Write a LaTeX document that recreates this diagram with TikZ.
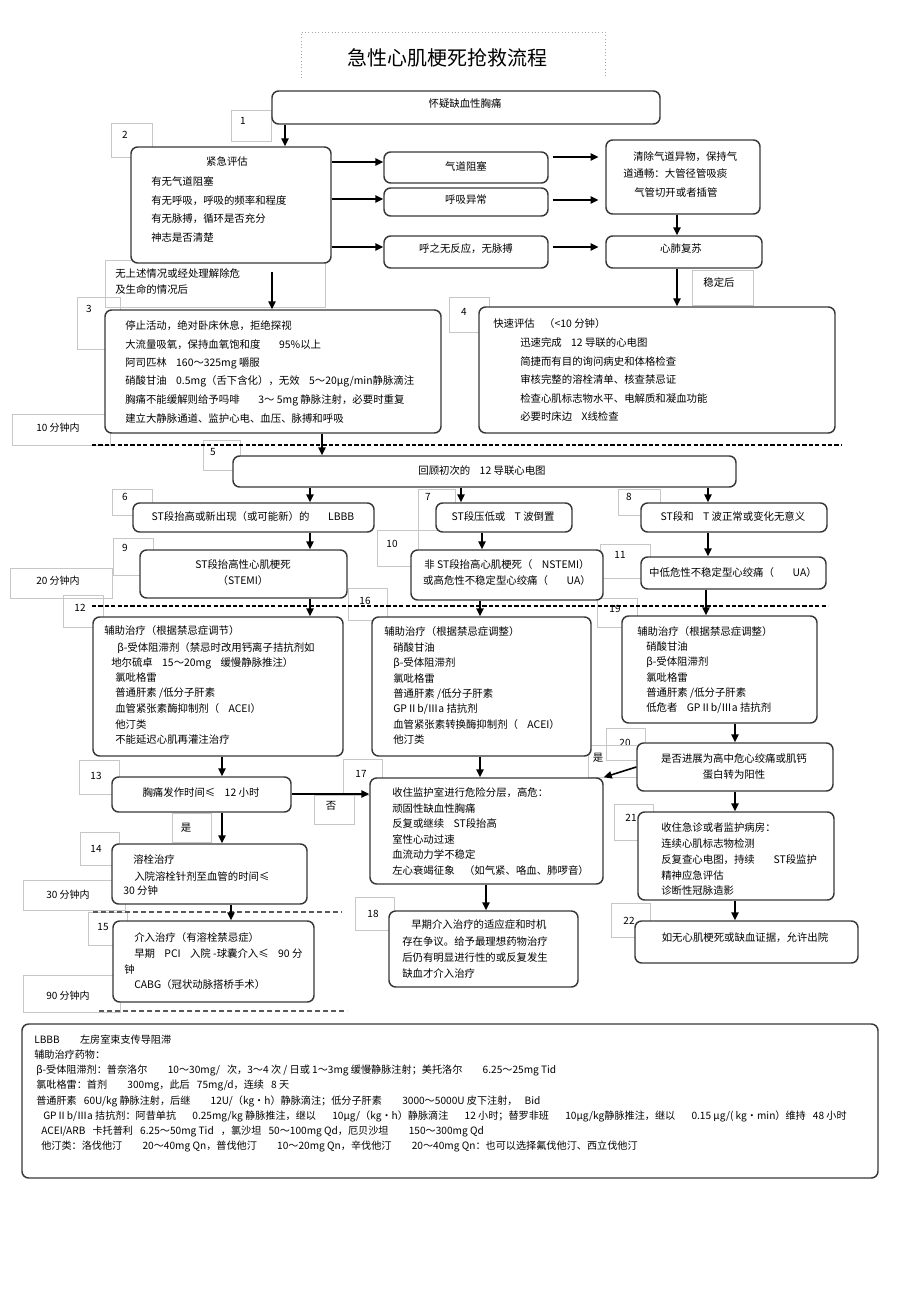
\documentclass[tikz,border=0pt]{standalone}
\usepackage{fontspec}
\setmainfont{Noto Sans CJK SC}
\usetikzlibrary{arrows.meta,fit}
\newcommand\sgap{\hspace{0.9em}}
\newcommand\lgap{\hspace{2em}}
\newcommand\kgap{\hspace{1.6em}}
\newcommand\mgap{\hspace{0.7em}}
\newcommand\tlines[5]{\foreach [count=\i] \t in {#5} {\node[txt] (#1-\i) at (#2, {#3+(\i-1)*#4}) {\t};}}
\begin{document}
\begin{tikzpicture}[x=0.75pt,y=-0.75pt,
 box/.style={draw=black!78, line width=1.1pt, rounded corners=5pt, fill=white, inner sep=0pt},
 lbl/.style={draw=black!22, line width=0.5pt, inner sep=0pt},
 num/.style={font=\fontsize{7.5}{9}\selectfont, inner sep=0pt},
 txt/.style={font=\fontsize{7.8}{9}\selectfont, inner sep=0pt, anchor=west},
 ctxt/.style={font=\fontsize{7.8}{9}\selectfont, inner sep=0pt},
 ltxt/.style={font=\fontsize{7.6}{9}\selectfont, inner sep=0pt, anchor=west},
 arr/.style={line width=1.2pt, -{Triangle[length=6pt,width=5.5pt]}},
 sep/.style={line width=1.7pt, dash pattern=on 3.2pt off 1.6pt},
 septhin/.style={line width=0.8pt, black!65, dash pattern=on 3.5pt off 2.5pt}]
\useasboundingbox (0,0) rectangle (920,1303);
\fill[white] (0,0) rectangle (920,1303);

% ---------- title ----------
\draw[dotted, black!35, line width=0.5pt] (301,78) -- (301,32) -- (605,32) -- (605,78);
\node[font=\fontsize{15}{18}\selectfont, inner sep=0pt] (title) at (447,58) {急性心肌梗死抢救流程};

% ---------- faint label boxes ----------
\node[lbl, fit={(231,110) (271,141)}] (l1) {};
\node[num] (n1) at (243,121) {1};
\node[lbl, fit={(111,123) (152,157)}] (l2) {};
\node[num] (n2) at (125,135) {2};
\node[lbl, fit={(105,260) (325,307)}] (lA) {};
\node[txt] (lA-1) at (115,274) {无上述情况或经处理解除危};
\node[txt] (lA-2) at (115,289) {及生命的情况后};
\node[lbl, fit={(77,297) (120,349)}] (l3) {};
\node[num] (n3) at (89,309) {3};
\node[lbl, fit={(692,270) (753,305)}] (lS) {};
\node[ctxt] (lS-t) at (719,283) {稳定后};
\node[lbl, fit={(449,297) (489,332)}] (l4) {};
\node[num] (n4) at (464,312) {4};
\node[lbl, fit={(12,414) (110,445)}] (lt10) {};
\node[num] (lt10-t) at (58,428) {10 分钟内};
\node[lbl, fit={(203,440) (240,470)}] (l5) {};
\node[num] (n5) at (213,452) {5};
\node[lbl, fit={(112,489) (152,515)}] (l6) {};
\node[num] (n6) at (125,497) {6};
\node[lbl, fit={(418,489) (455,530)}] (l7) {};
\node[num] (n7) at (428,497) {7};
\node[lbl, fit={(618,489) (660,515)}] (l8) {};
\node[num] (n8) at (629,497) {8};
\node[lbl, fit={(113,538) (153,575)}] (l9) {};
\node[num] (n9) at (125,548) {9};
\node[lbl, fit={(10,568) (112,598)}] (lt20) {};
\node[num] (lt20-t) at (58,581) {20 分钟内};
\node[lbl, fit={(377,530) (418,566)}] (l10) {};
\node[num] (n10) at (392,544) {10};
\node[lbl, fit={(600,544) (650,578)}] (l11) {};
\node[num] (n11) at (620,555) {11};
\node[lbl, fit={(63,595) (103,627)}] (l12) {};
\node[num] (n12) at (80,608) {12};
\node[lbl, fit={(348,588) (387,620)}] (l16) {};
\node[num] (n16) at (365,601) {16};
\node[lbl, fit={(597,598) (637,627)}] (l19) {};
\node[num] (n19) at (615,609) {19};
\node[lbl, fit={(606,728) (645,760)}] (l20) {};
\node[num] (n20) at (625,743) {20};
\node[lbl, fit={(588,745) (637,777)}] (lY1) {};
\node[ctxt] (lY1-t) at (598,758) {是};
\node[lbl, fit={(79,760) (119,794)}] (l13) {};
\node[num] (n13) at (96,776) {13};
\node[lbl, fit={(314,795) (354,824)}] (lN) {};
\node[ctxt] (lN-t) at (331,806) {否};
\node[lbl, fit={(343,759) (382,795)}] (l17) {};
\node[num] (n17) at (361,774) {17};
\node[lbl, fit={(172,813) (211,842)}] (lY2) {};
\node[ctxt] (lY2-t) at (186,828) {是};
\node[lbl, fit={(80,832) (119,865)}] (l14) {};
\node[num] (n14) at (96,849) {14};
\node[lbl, fit={(23,880) (125,910)}] (lt30) {};
\node[num] (lt30-t) at (68,895) {30 分钟内};
\node[lbl, fit={(614,804) (653,840)}] (l21) {};
\node[num] (n21) at (631,818) {21};
\node[lbl, fit={(355,897) (394,930)}] (l18) {};
\node[num] (n18) at (373,914) {18};
\node[lbl, fit={(88,912) (127,945)}] (l15) {};
\node[num] (n15) at (103,927) {15};
\node[lbl, fit={(611,903) (650,937)}] (l22) {};
\node[num] (n22) at (629,921) {22};
\node[lbl, fit={(23,975) (120,1012)}] (lt90) {};
\node[num] (lt90-t) at (68,996) {90 分钟内};

% ---------- dashed separators ----------
\coordinate (s1a) at (92,445); \coordinate (s1b) at (842,445);
\draw[sep] (s1a) -- (s1b);
\coordinate (s2a) at (92,606); \coordinate (s2b) at (828,606);
\draw[sep] (s2a) -- (s2b);
\coordinate (s3a) at (93,912); \coordinate (s3b) at (342,912);
\draw[septhin] (s3a) -- (s3b);
\coordinate (s4a) at (99,1011); \coordinate (s4b) at (347,1011);
\draw[septhin] (s4a) -- (s4b);

% ---------- main boxes ----------
\node[box, fit={(272,91) (660,124)}] (b1) {};
\node[ctxt] (b1-t) at (465,104) {怀疑缺血性胸痛};

\node[box, fit={(131,147) (331,263)}] (b2) {};
\node[ctxt] (b2-h) at (227,162) {紧急评估};
\tlines{b2}{151}{182}{18.4}{{有无气道阻塞},{有无呼吸，呼吸的频率和程度},{有无脉搏，循环是否充分},{神志是否清楚}}

\node[box, fit={(384,152) (548,183)}] (bA) {};
\node[ctxt] (bA-t) at (466,167) {气道阻塞};
\node[box, fit={(384,188) (548,216)}] (bB) {};
\node[ctxt] (bB-t) at (466,200) {呼吸异常};
\node[box, fit={(384,236) (548,268)}] (bC) {};
\node[ctxt] (bC-t) at (466,249) {呼之无反应，无脉搏};

\node[box, fit={(606,140) (760,214)}] (bD) {};
\node[txt] (bD-1) at (633,157) {清除气道异物，保持气};
\node[txt] (bD-2) at (623,174) {道通畅：大管径管吸痰};
\node[txt] (bD-3) at (634,193) {气管切开或者插管};
\node[box, fit={(606,236) (762,268)}] (bE) {};
\node[ctxt] (bE-t) at (681,249) {心肺复苏};

\node[box, fit={(105,310) (441,433)}] (b3) {};
\tlines{b3}{125}{326}{18.6}{{停止活动，绝对卧床休息，拒绝探视},{大流量吸氧，保持血氧饱和度\sgap\sgap 95\%以上},{阿司匹林\sgap 160～325mg 嚼服},{硝酸甘油\sgap 0.5mg（舌下含化），无效\sgap 5～20μg/min静脉滴注},{胸痛不能缓解则给予吗啡\sgap\sgap 3～ 5mg 静脉注射，必要时重复},{建立大静脉通道、监护心电、血压、脉搏和呼吸}}

\node[box, fit={(479,307) (835,433)}] (b4) {};
\node[txt] (b4-h) at (493,324) {快速评估\sgap （<10 分钟）};
\tlines{b4}{520}{343}{18.5}{{迅速完成\sgap 12 导联的心电图},{简捷而有目的询问病史和体格检查},{审核完整的溶栓清单、核查禁忌证},{检查心肌标志物水平、电解质和凝血功能},{必要时床边\sgap X线检查}}

\node[box, fit={(233,456) (736,487)}] (b5) {};
\node[ctxt] (b5-t) at (482,471) {回顾初次的\sgap 12 导联心电图};

\node[box, fit={(133,503) (374,532)}] (b6) {};
\node[ctxt] (b6-t) at (253,517) {ST段抬高或新出现（或可能新）的\sgap\sgap LBBB};
\node[box, fit={(436,503) (572,532)}] (b7) {};
\node[ctxt] (b7-t) at (503,517) {ST段压低或\sgap T 波倒置};
\node[box, fit={(641,503) (827,532)}] (b8) {};
\node[ctxt] (b8-t) at (733,517) {ST段和\sgap T 波正常或变化无意义};

\node[box, fit={(140,550) (347,598)}] (b9) {};
\node[ctxt] (b9-1) at (243,565) {ST段抬高性心肌梗死};
\node[ctxt] (b9-2) at (243,581) {（STEMI）};
\node[box, fit={(411,550) (603,600)}] (b10) {};
\node[ctxt] (b10-1) at (507,565) {非 ST段抬高心肌梗死（\sgap NSTEMI）};
\node[ctxt] (b10-2) at (507,581) {或高危性不稳定型心绞痛（\sgap\sgap UA）};
\node[box, fit={(641,557) (826,589)}] (b11) {};
\node[ctxt] (b11-t) at (733,573) {中低危性不稳定型心绞痛（\sgap\sgap UA）};

\node[box, fit={(93,617) (343,756)}] (b12) {};
\node[txt] (b12-h) at (104,631) {辅助治疗（根据禁忌症调节）};
\node[txt] (b12-a) at (117,648) {β-受体阻滞剂（禁忌时改用钙离子拮抗剂如};
\node[txt] (b12-b) at (111,663) {地尔硫卓\sgap 15～20mg\sgap 缓慢静脉推注）};
\tlines{b12}{115}{678}{15.5}{{氯吡格雷},{普通肝素 /低分子肝素},{血管紧张素酶抑制剂（\sgap ACEI）},{他汀类},{不能延迟心肌再灌注治疗}}

\node[box, fit={(372,617) (591,756)}] (b16) {};
\node[txt] (b16-h) at (384,632) {辅助治疗（根据禁忌症调整）};
\tlines{b16}{393}{648}{15.33}{{硝酸甘油},{β-受体阻滞剂},{氯吡格雷},{普通肝素 /低分子肝素},{GPⅡb/Ⅲa 拮抗剂},{血管紧张素转换酶抑制剂（\sgap ACEI）},{他汀类}}

\node[box, fit={(622,616) (817,723)}] (b19) {};
\node[txt] (b19-h) at (637,632) {辅助治疗（根据禁忌症调整）};
\tlines{b19}{646}{647}{15.25}{{硝酸甘油},{β-受体阻滞剂},{氯吡格雷},{普通肝素 /低分子肝素},{低危者\sgap GPⅡb/Ⅲa 拮抗剂}}

\node[box, fit={(637,743) (833,791)}] (b20) {};
\node[ctxt] (b20-1) at (734,759) {是否进展为高中危心绞痛或肌钙};
\node[ctxt] (b20-2) at (734,775) {蛋白转为阳性};

\node[box, fit={(112,777) (291,812)}] (b13) {};
\node[ctxt] (b13-t) at (201,793) {胸痛发作时间≤\sgap 12 小时};

\node[box, fit={(370,778) (603,884)}] (b17) {};
\tlines{b17}{392}{793}{15.5}{{收住监护室进行危险分层，高危：},{顽固性缺血性胸痛},{反复或继续\sgap ST段抬高},{室性心动过速},{血流动力学不稳定},{左心衰竭征象\sgap （如气紧、咯血、肺啰音）}}

\node[box, fit={(112,844) (307,904)}] (b14) {};
\node[txt] (b14-1) at (133,860) {溶栓治疗};
\node[txt] (b14-2) at (134,876) {入院溶栓针剂至血管的时间≤};
\node[txt] (b14-3) at (123,891) {30 分钟};

\node[box, fit={(638,812) (834,900)}] (b21) {};
\tlines{b21}{661}{828}{15.75}{{收住急诊或者监护病房：},{连续心肌标志物检测},{反复查心电图，持续\sgap\sgap ST段监护},{精神应急评估},{诊断性冠脉造影}}

\node[box, fit={(113,921) (314,1002)}] (b15) {};
\node[txt] (b15-1) at (134,938) {介入治疗（有溶栓禁忌症）};
\node[txt] (b15-2) at (134,954) {早期\sgap PCI\sgap 入院 -球囊介入≤\sgap 90 分};
\node[txt] (b15-3) at (124,970) {钟};
\node[txt] (b15-4) at (134,985) {CABG（冠状动脉搭桥手术）};

\node[box, fit={(389,911) (578,987)}] (b18) {};
\node[txt] (b18-1) at (411,925) {早期介入治疗的适应症和时机};
\node[txt] (b18-2) at (402,942) {存在争议。给予最理想药物治疗};
\node[txt] (b18-3) at (402,958) {后仍有明显进行性的或反复发生};
\node[txt] (b18-4) at (402,974) {缺血才介入治疗};

\node[box, fit={(635,921) (858,963)}] (b22) {};
\node[ctxt] (b22-t) at (745,938) {如无心肌梗死或缺血证据，允许出院};

% ---------- legend ----------
\node[box, fit={(22,1024) (878,1178)}] (bL) {};
\node[ltxt] (bL-1) at (34,1040) {LBBB\lgap 左房室束支传导阻滞};
\node[ltxt] (bL-2) at (34,1055) {辅助治疗药物：};
\node[ltxt] (bL-3) at (36,1070) {β-受体阻滞剂：普奈洛尔\lgap 10～30mg/\mgap 次，3～4 次 / 日或 1～3mg 缓慢静脉注射；美托洛尔\lgap 6.25～25mg Tid};
\node[ltxt] (bL-4) at (36,1085) {氯吡格雷：首剂\lgap 300mg，此后\mgap 75mg/d，连续\mgap 8 天};
\node[ltxt] (bL-5) at (36,1101) {普通肝素\mgap 60U/kg 静脉注射，后继\lgap 12U/（kg・h）静脉滴注；低分子肝素\lgap 3000～5000U 皮下注射，\mgap Bid};
\node[ltxt] (bL-6) at (43,1116) {GPⅡb/Ⅲa 拮抗剂：阿昔单抗\kgap 0.25mg/kg 静脉推注，继以\kgap 10μg/（kg・h）静脉滴注\kgap 12 小时；替罗非班\kgap 10μg/kg静脉推注，继以\kgap 0.15 μg/( kg・min）维持\mgap 48 小时};
\node[ltxt] (bL-7) at (41,1131) {ACEI/ARB\mgap 卡托普利\mgap 6.25～50mg Tid\mgap ，氯沙坦\mgap 50～100mg Qd，厄贝沙坦\lgap 150～300mg Qd};
\node[ltxt] (bL-8) at (41,1146) {他汀类：洛伐他汀\lgap 20～40mg Qn，普伐他汀\lgap 10～20mg Qn，辛伐他汀\lgap 20～40mg Qn：也可以选择氟伐他汀、西立伐他汀};

% ---------- column / row coordinates ----------
\coordinate (x285) at (285,0);
\coordinate (x677) at (677,0);
\coordinate (x322) at (322,0);
\coordinate (x310) at (310,0);
\coordinate (x461) at (461,0);
\coordinate (x708) at (708,0);
\coordinate (x482) at (482,0);
\coordinate (x480) at (480,0);
\coordinate (x706) at (706,0);
\coordinate (x735) at (735,0);
\coordinate (x222) at (222,0);
\coordinate (x231) at (231,0);
\coordinate (x486) at (486,0);
\coordinate (y162) at (0,162);
\coordinate (y199) at (0,199);
\coordinate (y247) at (0,247);
\coordinate (y157) at (0,157);
\coordinate (y201) at (0,200);
\coordinate (y794) at (0,794);
\coordinate (y767) at (0,767);
\coordinate (a23s) at (272,272);

% ---------- arrows ----------
\draw[arr] (b1.south -| x285) -- (b2.north -| x285);
\draw[arr] (a23s) -- (b3.north -| a23s);
\draw[arr] (b2.east |- y162) -- (bA.west |- y162);
\draw[arr] (b2.east |- y199) -- (bB.west |- y199);
\draw[arr] (b2.east |- y247) -- (bC.west |- y247);
\draw[arr, shorten <=3pt, shorten >=5pt] (bA.east |- y157) -- (bD.west |- y157);
\draw[arr, shorten <=3pt, shorten >=5pt] (bB.east |- y201) -- (bD.west |- y201);
\draw[arr, shorten <=3pt, shorten >=5pt] (bC.east |- y247) -- (bE.west |- y247);
\draw[arr] (bD.south -| x677) -- (bE.north -| x677);
\draw[arr] (bE.south -| x677) -- (b4.north -| x677);
\draw[arr] (b3.south -| x322) -- (b5.north -| x322);
\draw[arr] (b5.south -| x310) -- (b6.north -| x310);
\draw[arr] (b5.south -| x461) -- (b7.north -| x461);
\draw[arr] (b5.south -| x708) -- (b8.north -| x708);
\draw[arr] (b6.south -| x310) -- (b9.north -| x310);
\draw[arr] (b7.south -| x482) -- (b10.north -| x482);
\draw[arr] (b8.south -| x708) -- (b11.north -| x708);
\draw[arr] (b9.south -| x310) -- (b12.north -| x310);
\draw[arr] (b10.south -| x480) -- (b16.north -| x480);
\draw[arr] (b11.south -| x706) -- (b19.north -| x706);
\draw[arr] (b19.south -| x735) -- (b20.north -| x735);
\draw[arr] (b20.south -| x735) -- (b21.north -| x735);
\draw[arr] (b21.south -| x735) -- (b22.north -| x735);
\draw[arr] (b20.west |- y767) -- (b17.north east);
\draw[arr] (b12.south -| x222) -- (b13.north -| x222);
\draw[arr] (b13.south -| x222) -- (b14.north -| x222);
\draw[arr] (b14.south -| x231) -- (b15.north -| x231);
\draw[arr] (b13.east |- y794) -- (b17.west |- y794);
\draw[arr] (b16.south -| x480) -- (b17.north -| x480);
\draw[arr] (b17.south -| x486) -- (b18.north -| x486);
\end{tikzpicture}
\end{document}
